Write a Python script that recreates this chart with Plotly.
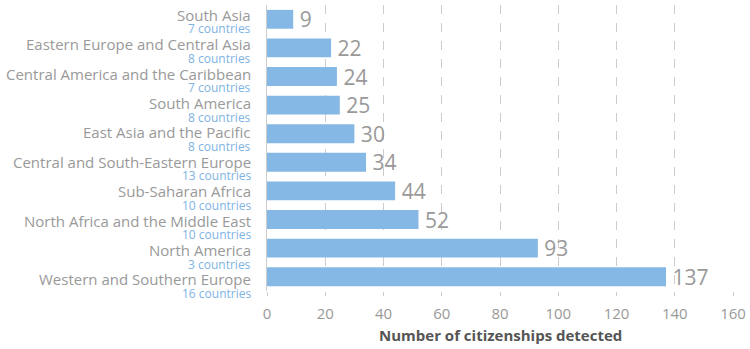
import plotly.graph_objects as go

regions = ["South Asia", "Eastern Europe and Central Asia", "Central America and the Caribbean",
           "South America", "East Asia and the Pacific", "Central and South-Eastern Europe",
           "Sub-Saharan Africa", "North Africa and the Middle East", "North America",
           "Western and Southern Europe"]
countries = [7, 8, 7, 8, 8, 13, 10, 10, 3, 16]
citizenships = [9, 22, 24, 25, 30, 34, 44, 52, 93, 137]
x_ticks = [0, 20, 40, 60, 80, 100, 120, 140, 160]
x_title = "Number of citizenships detected"

fig = go.Figure(go.Bar(
    y=regions, x=citizenships, orientation="h",
    marker=dict(color="#85b8e5", line=dict(width=0)),
    width=0.66,
    text=["\u2009" + str(v) for v in citizenships], textposition="outside",
    textfont=dict(size=21, color="#999999", family="Open Sans"),
    constraintext="none",
    cliponaxis=False,
))

annotations = []
for i, (r, c) in enumerate(zip(regions, countries)):
    drift = 0.8 * i
    annotations.append(dict(xref="paper", yref="y", x=0, y=r, xanchor="right", yanchor="middle",
                            xshift=-14, yshift=4.5 - drift, showarrow=False, text=r,
                            font=dict(size=15, color="#999999", family="Open Sans")))
    annotations.append(dict(xref="paper", yref="y", x=0, y=r, xanchor="right", yanchor="middle",
                            xshift=-14, yshift=-9.5 - drift, showarrow=False, text=f"{c} countries",
                            font=dict(size=12, color="#7eb3e3", family="Open Sans")))
annotations.append(dict(xref="paper", yref="paper", x=0.5, y=0, xanchor="center", yanchor="middle",
                        yshift=-44, showarrow=False, text=f"<b>{x_title}</b>",
                        font=dict(size=15, color="#555555", family="Open Sans")))

fig.update_layout(
    width=750, height=349,
    margin=dict(l=267, r=17, t=5, b=58, autoexpand=False),
    plot_bgcolor="white", paper_bgcolor="white",
    font=dict(family="Open Sans", color="#999999"),
    showlegend=False,
    annotations=annotations,
    xaxis=dict(range=[0, 160], tickvals=x_ticks, showgrid=True, gridcolor="#cccccc",
               griddash="dash", gridwidth=1, zeroline=False, showline=False,
               ticks="outside", ticklen=4, tickcolor="#cccccc", automargin=False,
               tickfont=dict(size=15, color="#999999"), ticklabelstandoff=5),
    yaxis=dict(range=[9.5, -0.5], tickvals=regions, showticklabels=False, automargin=False,
               showline=True, linecolor="#cccccc", linewidth=1, ticks=""),
)

fig.write_html("out.html")
